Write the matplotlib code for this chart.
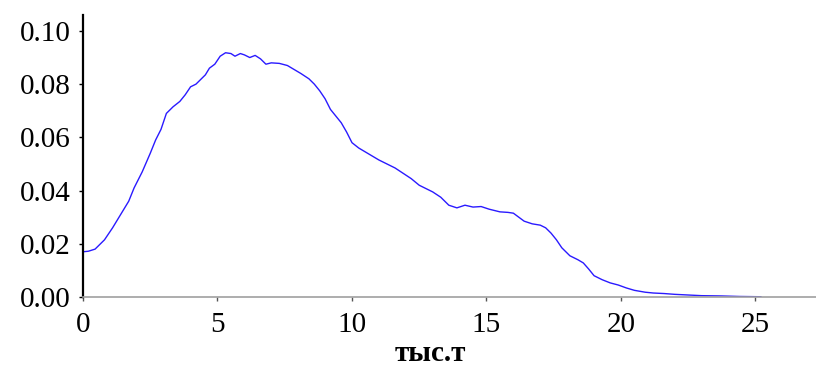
from matplotlib import pyplot as plt

# density curve (x in thousand tonnes)
x_vals = [0.0, 0.2, 0.45, 0.8, 1.1, 1.4, 1.7, 1.9, 2.2, 2.5, 2.7, 2.9, 3.1, 3.35, 3.6,
          3.8, 4.0, 4.2, 4.35, 4.55, 4.7, 4.9, 5.1, 5.3, 5.5, 5.65, 5.85, 6.0, 6.2,
          6.4, 6.6, 6.8, 7.0, 7.3, 7.6, 7.9, 8.1, 8.4, 8.6, 8.8, 9.0, 9.2, 9.4, 9.6,
          9.8, 10.0, 10.25, 10.5, 10.75, 11.0, 11.3, 11.6, 11.9, 12.2, 12.5, 12.8,
          13.0, 13.3, 13.6, 13.9, 14.2, 14.5, 14.8, 15.1, 15.5, 15.8, 16.0, 16.2,
          16.4, 16.7, 17.0, 17.2, 17.4, 17.6, 17.8, 18.1, 18.4, 18.6, 18.8, 19.0,
          19.3, 19.6, 19.9, 20.2, 20.5, 20.9, 21.2, 21.6, 22.0, 22.6, 23.0, 23.7,
          24.4, 25.2]
density = [0.0170, 0.0172, 0.0180, 0.0215, 0.0260, 0.0310, 0.0360, 0.0410, 0.0470,
           0.0540, 0.0590, 0.0630, 0.0690, 0.0715, 0.0735, 0.0760, 0.0790, 0.0800,
           0.0815, 0.0835, 0.0860, 0.0875, 0.0905, 0.0918, 0.0915, 0.0905, 0.0915,
           0.0910, 0.0900, 0.0908, 0.0895, 0.0875, 0.0880, 0.0878, 0.0870, 0.0852,
           0.0840, 0.0820, 0.0800, 0.0775, 0.0745, 0.0705, 0.0680, 0.0655, 0.0620,
           0.0580, 0.0560, 0.0545, 0.0530, 0.0515, 0.0500, 0.0485, 0.0465, 0.0445,
           0.0420, 0.0405, 0.0395, 0.0375, 0.0345, 0.0335, 0.0345, 0.0338, 0.0340,
           0.0330, 0.0320, 0.0318, 0.0315, 0.0300, 0.0285, 0.0275, 0.0270, 0.0260,
           0.0240, 0.0215, 0.0185, 0.0155, 0.0140, 0.0128, 0.0105, 0.0080, 0.0065,
           0.0053, 0.0045, 0.0034, 0.0025, 0.0018, 0.0015, 0.0013, 0.0010, 0.0007,
           0.0005, 0.0004, 0.0002, 0.0001]

x_ticks = [0, 5, 10, 15, 20, 25]
y_ticks = [0.00, 0.02, 0.04, 0.06, 0.08, 0.10]

plt.rcParams['font.family'] = 'Liberation Serif'

fig = plt.figure(figsize=(8.16, 3.65), dpi=100)
ax = fig.add_axes([0.1017, 0.1863, 0.8983, 0.7727])
ax.plot(x_vals, density, color='#2a1aff', lw=1.0)

ax.set_xlim(0, 27.25)
ax.set_ylim(0, 0.106)
ax.set_xticks(x_ticks)
ax.set_xticklabels([str(t) for t in x_ticks])
ax.set_yticks(y_ticks)
ax.set_yticklabels(['%.2f' % t for t in y_ticks])

ax.spines['top'].set_visible(False)
ax.spines['right'].set_visible(False)
ax.spines['left'].set_color('black')
ax.spines['left'].set_linewidth(1.6)
ax.spines['bottom'].set_color('#a0a0a0')
ax.spines['bottom'].set_linewidth(1.2)
ax.tick_params(axis='both', labelsize=21, length=3, width=1, direction='out')
ax.tick_params(axis='x', pad=8, color='#555555')
ax.tick_params(axis='y', pad=6)

fig.text(0.527, 0.012, 'тыс.т', fontsize=21, ha='center', va='baseline',
         fontweight='bold')

fig.savefig('out.png', dpi=100)
